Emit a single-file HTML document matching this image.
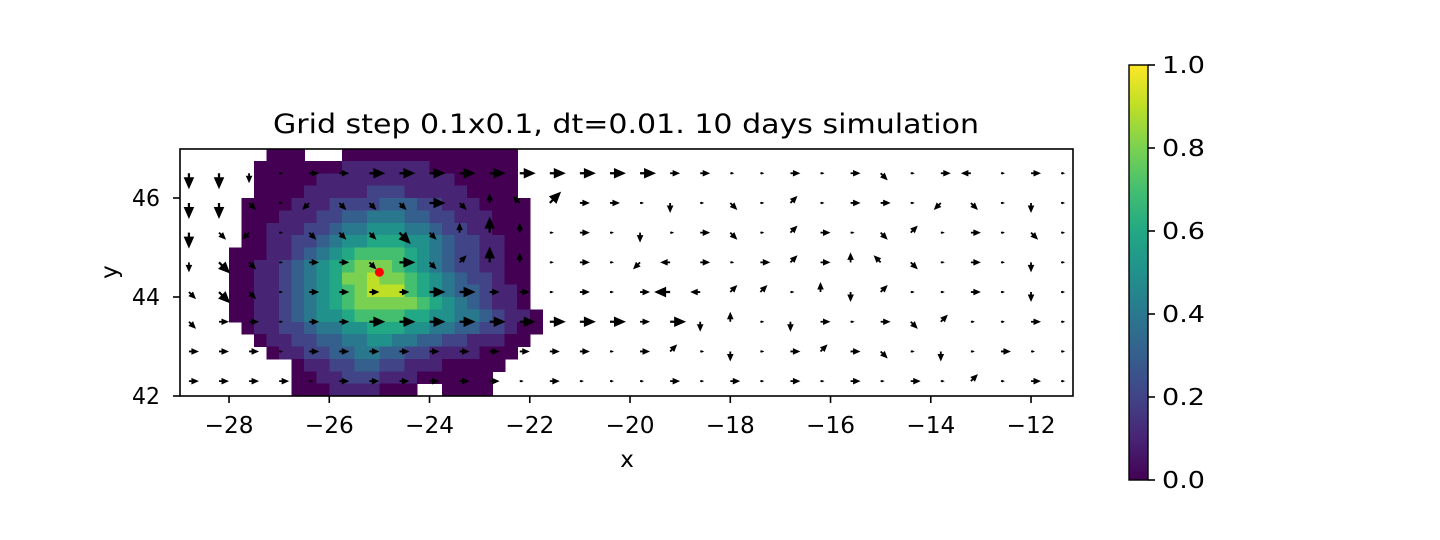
<!DOCTYPE html>
<html><head><meta charset="utf-8"><style>
body{margin:0;background:#fff}
svg{display:block;font-family:"DejaVu Sans","Liberation Sans",sans-serif}
</style></head><body>
<svg id="chart" width="1440" height="540" viewBox="0 0 1440 540">
<defs>
<clipPath id="plotclip"><rect x="180" y="149" width="893" height="247"/></clipPath>
<linearGradient id="viridis" x1="0" y1="1" x2="0" y2="0">
<stop offset="0" stop-color="#440154"/><stop offset="0.1" stop-color="#482475"/><stop offset="0.2" stop-color="#414487"/><stop offset="0.3" stop-color="#355f8d"/><stop offset="0.4" stop-color="#2a788e"/><stop offset="0.5" stop-color="#21918c"/><stop offset="0.6" stop-color="#22a884"/><stop offset="0.7" stop-color="#44bf70"/><stop offset="0.8" stop-color="#7ad151"/><stop offset="0.9" stop-color="#bddf26"/><stop offset="1" stop-color="#fde725"/>
</linearGradient>
</defs>
<g id="heat" clip-path="url(#plotclip)"></g>
<g id="arrows" clip-path="url(#plotclip)"></g>
<g id="marker"></g>
<rect x="180" y="149" width="893" height="247" fill="none" stroke="#000" stroke-width="1.6"/>
<g id="xticks"></g>
<g id="yticks"></g>
<text x="273" y="133" font-size="27" textLength="706" lengthAdjust="spacingAndGlyphs">Grid step 0.1x0.1, dt=0.01. 10 days simulation</text>
<text x="627" y="467" font-size="23" text-anchor="middle">x</text>
<text x="117" y="272" font-size="23" text-anchor="middle" transform="rotate(-90 117 272)">y</text>
<rect x="1129" y="65" width="19" height="415" fill="url(#viridis)" stroke="#000" stroke-width="1.4"/>
<g id="cbticks"></g>
</svg>
<script>
const xTicks=[-28,-26,-24,-22,-20,-18,-16,-14,-12];
const yTicks=[42,44,46];
const cbTicks=[0,0.2,0.4,0.6,0.8,1.0];
const source=[-25,44.5];
// concentration grid: 0.25 deg cells, x from -28, rows from y=47 downward; digit = value*10, '.' = no data
const heatX0=-28, heatY0=47, heatStep=0.25;
const heatRows=[
"...000...00000000000000..",
"..000000011111110000000..",
"..000001111111111100000..",
"..000011111222111110000..",
".00001112222333221110000.",
".00011122334443322111000.",
".00111223445554432211000.",
".00112234556665543221100.",
"000112345677776543221100.",
"001123456788876543221100.",
"001123456889887654322100.",
"001123456789997654332110.",
"001123456788888765432110.",
"0011234556777766554432110",
".011223445566655443322100",
"..0112233445544332211100.",
"...01122334433221111000..",
".....01122332211100000...",
".....0011222111000000....",
".....0001111000..0000...."
];
// quiver: 0.6 deg grid, rows from y=46.5 down; e/n/w/s/a(NE)/b(NW)/c(SW)/d(SE); upper=long, lower=short, '.'=tiny
const qX0=-28.8, qY0=46.5, qStep=0.6;
const quiverRows=[
"SSs.eeEEEEEEEEEEee..e.ed.ew.e.",
"SSd.cdddEdnbAee.s.d.a.ee.cd.s.",
"Sdc.dddDdnNn.e.s.ed.ae.da.e.d.",
"sDd.eedEdaNn.e.cwe.eaenbd.e.s.",
"dDd.eeeeEEee.e.eWwaa.nsa..e.s.",
"dee.eeEEEEEEEEEeEsn.se.eda..e.",
"eee.eeeeeeeeee.ea.s.eaed.s.e..",
"eeee.eeeeee.e...e.e.e.e.e.a.e."
];
const NS="http://www.w3.org/2000/svg";
const xs=v=>178.9+(v+29)*50.125;
const ys=v=>396-(v-42)*49.5;
const cbY=v=>480-v*415;
const vir=["#440154","#482475","#414487","#355f8d","#2a788e","#21918c","#22a884","#44bf70","#7ad151","#bddf26","#fde725"];
function mk(tag,attrs,parent){const e=document.createElementNS(NS,tag);for(const k in attrs)e.setAttribute(k,attrs[k]);parent.appendChild(e);return e;}
const heat=document.getElementById('heat');
heatRows.forEach((row,j)=>{[...row].forEach((ch,i)=>{if(ch==='.')return;
const x0=xs(heatX0+i*heatStep),x1=xs(heatX0+(i+1)*heatStep),y0=ys(heatY0-j*heatStep),y1=ys(heatY0-(j+1)*heatStep);
const r=mk('rect',{x:x0,y:y0,width:x1-x0+0.6,height:y1-y0+0.6,fill:vir[+ch],'shape-rendering':'crispEdges'},heat);

});});
const dirs={e:0,a:45,n:90,b:135,w:180,c:225,s:270,d:315};
const arrows=document.getElementById('arrows');
quiverRows.forEach((row,m)=>{[...row].forEach((ch,k)=>{
const x=xs(qX0+k*qStep),y=ys(qY0-m*qStep);
let L,ang;
if(ch==='.'){L=4;ang=0;}else{const lc=ch.toLowerCase();L=(ch===lc)?10:16;ang=dirs[lc];}
const hl=L*0.75,hw=L*0.33,sw=Math.max(0.9,L*0.07);
const p=`0,-${sw} ${L-hl},-${sw} ${L-hl},-${hw} ${L},0 ${L-hl},${hw} ${L-hl},${sw} 0,${sw}`;
const a=mk('polygon',{points:p,fill:'#000',transform:`translate(${x} ${y}) rotate(${-ang})`},arrows);

});});
const mg=document.getElementById('marker');
const dot=mk('circle',{cx:xs(source[0]),cy:ys(source[1]),r:4.5,fill:'#ff0000'},mg);


const fmt=v=>(v<0?'\u2212':'')+Math.abs(v);
const xg=document.getElementById('xticks');
xTicks.forEach(v=>{const x=xs(v);
mk('line',{x1:x,x2:x,y1:396,y2:403,stroke:'#000','stroke-width':1.6},xg);
const t=mk('text',{x:x,y:433,'font-size':23,'text-anchor':'middle',textLength:49,lengthAdjust:'spacingAndGlyphs'},xg);t.textContent=fmt(v);

});
const yg=document.getElementById('yticks');
yTicks.forEach(v=>{const y=ys(v);
mk('line',{x1:173,x2:180,y1:y,y2:y,stroke:'#000','stroke-width':1.6},yg);
const t=mk('text',{x:132,y:y+8,'font-size':23,textLength:28,lengthAdjust:'spacingAndGlyphs'},yg);t.textContent=fmt(v);

});
const cg=document.getElementById('cbticks');
cbTicks.forEach(v=>{const y=cbY(v);
mk('line',{x1:1148,x2:1155,y1:y,y2:y,stroke:'#000','stroke-width':1.6},cg);
const t=mk('text',{x:1162,y:y+8,'font-size':23,textLength:43,lengthAdjust:'spacingAndGlyphs'},cg);t.textContent=v.toFixed(1);

});
</script>
</body></html>
